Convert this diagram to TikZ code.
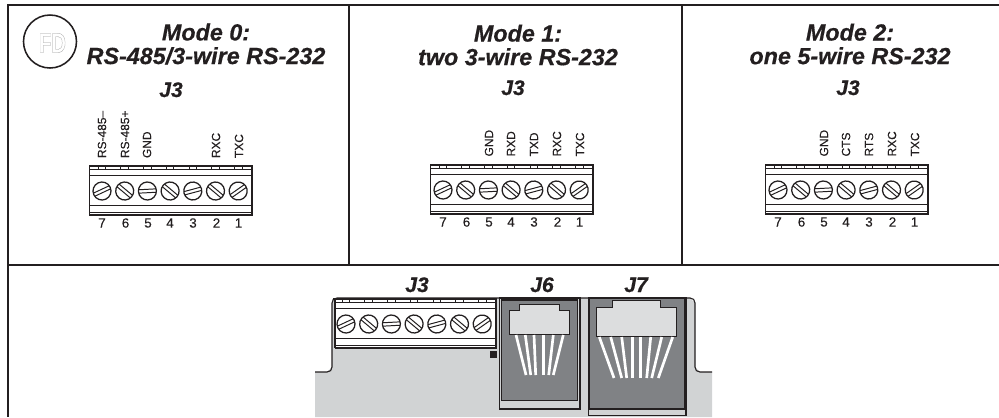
\documentclass[tikz,border=0pt]{standalone}
\usepackage{fontspec}
\setsansfont[FakeBold=0.15,BoldItalicFeatures={FakeBold=0.5}]{Liberation Sans}
\newfontfamily\logofont{Liberation Sans}
\usepackage{tikz}
\usetikzlibrary{positioning}
\definecolor{inkblack}{HTML}{231F20}
\definecolor{boardgray}{HTML}{D1D3D4}
\definecolor{jackdark}{HTML}{808285}
\definecolor{jacklight}{HTML}{DCDDDE}

\begin{document}
\begin{tikzpicture}[
    x=0.025cm,
    y=-0.025cm,
    every node/.style={font=\sffamily, text=inkblack, inner sep=0pt},
    modetitle/.style={
        align=center,
        font=\sffamily\bfseries\itshape\fontsize{16.6}{16.8}\selectfont
    },
    jacktitle/.style={
        anchor=base,
        font=\sffamily\bfseries\itshape\fontsize{15}{16}\selectfont
    },
    pinlabel/.style={
        rotate=90,
        anchor=west,
        font=\sffamily\fontsize{8.5}{9}\selectfont
    },
    pinnumber/.style={
        font=\sffamily\fontsize{9.5}{10}\selectfont
    },
    frameline/.style={draw=inkblack, line width=1.4pt},
    blockline/.style={draw=inkblack, line width=0.7pt},
    jackpin/.style={draw=white, line width=1.9pt},
    termblock/.pic={
        \draw[blockline, fill=white, line width=1.2pt] (-12.5,-25.3) rectangle (149.7,24);
        \draw[blockline] (-12.5,-21.7) -- (149.7,-21.7);
        \draw[blockline] (-12.5,-15.3) -- (149.7,-15.3);
        \draw[blockline] (-12.5,14.7) -- (149.7,14.7);
        \draw[blockline] (-12.5,21.3) -- (149.7,21.3);
        % Screws
        \foreach \a [count=\i from 0] in {25,-40,3,-40,15,-40,35} {
            \draw[blockline] (\i*22.7-3.8,-25.3) -- (\i*22.7-3.8,-21.7);
            \draw[blockline] (\i*22.7+3.8,-25.3) -- (\i*22.7+3.8,-21.7);
            \begin{scope}[shift={(\i*22.7,0)}, rotate=\a]
                \draw[blockline, line width=0.9pt, fill=white] (0,0) circle (9);
                \draw[blockline] (-8.7,-1.7) -- (8.7,-1.7);
                \draw[blockline] (-8.7,1.7) -- (8.7,1.7);
            \end{scope}
        }
    }
]
    \useasboundingbox (0,0) rectangle (999,417);

    % === FRAME ===
    \draw[frameline] (999,5) -- (8,5) -- (8,417);
    \draw[frameline] (8,265) -- (999,265);
    \draw[frameline] (349,5) -- (349,265);
    \draw[frameline] (682,5) -- (682,265);

    % === LOGO ===
    \draw[inkblack, line width=1.1pt] (50,41.5) circle (26.5);
    \node[text=gray!80, font=\logofont\bfseries\fontsize{20}{20}\selectfont] (logo) at (52.5,43) {\scalebox{0.72}[1]{\special{pdf:code 1 Tr 0.2 w}FD\special{pdf:code 0 Tr}}};

    % === MODE TITLES ===
    \node[modetitle] (mode0) at (206,44) {Mode 0:\\RS-485/3-wire RS-232};
    \node[modetitle] (mode1) at (518,45) {Mode 1:\\two 3-wire RS-232};
    \node[modetitle] (mode2) at (850,44) {Mode 2:\\one 5-wire RS-232};

    \node[jacktitle] (j3a) at (171,97) {J3};
    \node[jacktitle] (j3b) at (513,95) {J3};
    \node[jacktitle] (j3c) at (848,95) {J3};

    % === TERMINAL BLOCKS ===
    \pic at (102,191) {termblock};
    \pic at (443,190) {termblock};
    \pic at (778,190) {termblock};

    % Pin numbers
    \foreach \mx/\my/\m in {102/223/a, 443/222/b, 778/222/c} {
        \foreach \n/\dx in {7/0, 6/23.5, 5/46, 4/68, 3/91, 2/114.5, 1/136.5} {
            \node[pinnumber] (num\m\n) at (\mx+\dx,\my) {\n};
        }
    }

    % Mode 0 labels
    \foreach \lx/\lab/\lname in {102/RS-485--/rsm, 125/RS-485+/rsp, 147/GND/gnd, 216/RXC/rxc, 239/TXC/txc} {
        \node[pinlabel] (a\lname) at (\lx,158.3) {\lab};
    }
    % Mode 1 labels
    \foreach \lx/\lab/\lname in {489/GND/gnd, 511/RXD/rxd, 534/TXD/txd, 557/RXC/rxc, 580/TXC/txc} {
        \node[pinlabel] (b\lname) at (\lx,156.7) {\lab};
    }
    % Mode 2 labels
    \foreach \lx/\lab/\lname in {824/GND/gnd, 846/CTS/cts, 869/RTS/rts, 892/RXC/rxc, 915/TXC/txc} {
        \node[pinlabel] (c\lname) at (\lx,156.7) {\lab};
    }

    % === BOARD ===
    \fill[boardgray] (315,372) -- (327,372) -- (332,367) -- (332,303) -- (337,298)
        -- (690,298) -- (695,303) -- (695,367) -- (700,372) -- (712,372)
        -- (712,417) -- (315,417) -- cycle;

    \pic at (346,324) {termblock};
    \fill[boardgray] (332,298.5) rectangle (334.5,349.5);
    \draw[blockline, line width=1pt] (335,298.7) -- (335,348);
    \draw[inkblack, line width=0.8pt] (315,372) -- (327,372)
        .. controls (330,372) and (332,370) .. (332,367) -- (332,303)
        .. controls (332,300) and (334,298) .. (337,298) -- (690,298)
        .. controls (693,298) and (695,300) .. (695,303) -- (695,367)
        .. controls (695,370) and (697,372) .. (700,372) -- (712,372);
    \fill[inkblack] (490,351) rectangle (496.7,357.7);
    \node[jacktitle] (j3d) at (417,292) {J3};
    \node[jacktitle] (j6) at (542,292) {J6};
    \node[jacktitle] (j7) at (636,292) {J7};

    % === J6 ===
    \draw[inkblack, line width=0.8pt, fill=boardgray] (499.5,298) rectangle (580,409);
    \draw[inkblack, line width=0.8pt, fill=jackdark] (501.7,300) rectangle (577.7,400.7);
    \draw[inkblack, line width=0.5pt, fill=jacklight] (509.3,334.3) -- (509.3,310) -- (519.3,310)
        -- (519.3,304.3) -- (559.3,304.3) -- (559.3,310) -- (569.3,310) -- (569.3,334.3) -- cycle;
    \foreach \xa/\xb in {516/526, 525.3/530.7, 534/535.7, 543.3/543.3, 553.3/548.7, 563.3/553.3} {
        \draw[jackpin] (\xa,335) -- (\xb,375);
    }

    % === J7 ===
    \draw[inkblack, line width=0.8pt, fill=boardgray] (588.5,298) rectangle (686,415.7);
    \draw[inkblack, line width=0.8pt, fill=jackdark] (589.5,298) rectangle (685,409);
    \draw[inkblack, line width=0.5pt, fill=jacklight] (596.7,336.7) -- (596.7,307.3) -- (612.7,307.3)
        -- (612.7,300.7) -- (660.7,300.7) -- (660.7,307.3) -- (676.7,307.3) -- (676.7,336.7) -- cycle;
    \foreach \xa/\xb in {599.3/614, 610.7/621.7, 621.7/626.7, 632.3/632.3, 640.7/640.7, 650.7/646.7, 661.7/651.7, 672.7/658.3} {
        \draw[jackpin] (\xa,337) -- (\xb,378);
    }
\end{tikzpicture}
\end{document}
